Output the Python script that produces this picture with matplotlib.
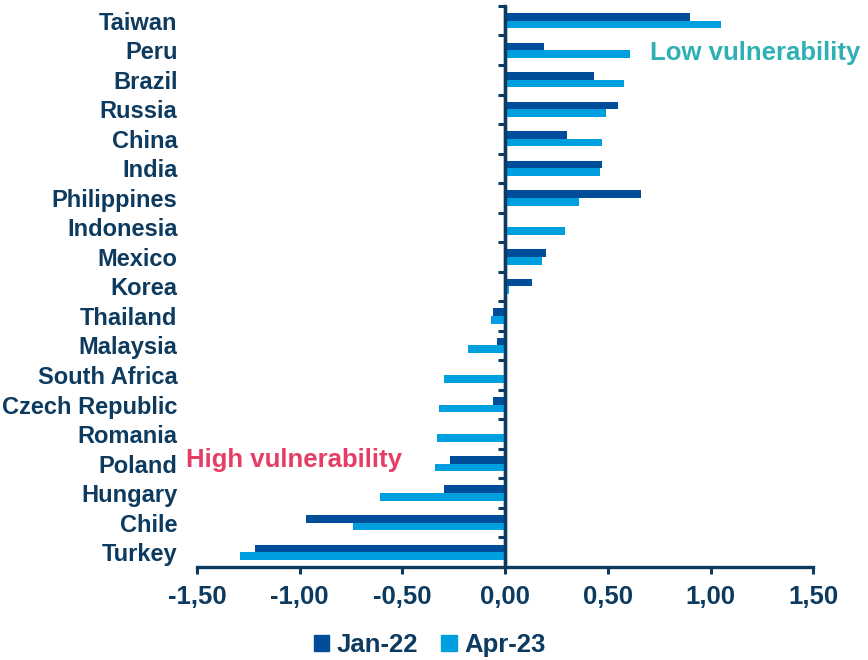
import matplotlib
matplotlib.use("Agg")
import matplotlib.pyplot as plt
import numpy as np
from matplotlib.patches import Patch

plt.rcParams['font.family'] = ['Liberation Sans', 'DejaVu Sans']

countries = ["Taiwan", "Peru", "Brazil", "Russia", "China", "India", "Philippines",
             "Indonesia", "Mexico", "Korea", "Thailand", "Malaysia", "South Africa",
             "Czech Republic", "Romania", "Poland", "Hungary", "Chile", "Turkey"]
jan22 = [0.90, 0.19, 0.43, 0.55, 0.30, 0.47, 0.66, 0.00, 0.20, 0.13,
         -0.06, -0.04, 0.00, -0.06, 0.00, -0.27, -0.30, -0.97, -1.22]
apr23 = [1.05, 0.61, 0.58, 0.49, 0.47, 0.46, 0.36, 0.29, 0.18, 0.02,
         -0.07, -0.18, -0.30, -0.32, -0.33, -0.34, -0.61, -0.74, -1.29]
xticks = [-1.5, -1.0, -0.5, 0.0, 0.5, 1.0, 1.5]
series_names = ["Jan-22", "Apr-23"]

navy = "#0d3a5f"
c_jan = "#004e9a"
c_apr = "#009fe0"

fig = plt.figure(figsize=(8.68, 6.6), dpi=100)
ax = fig.add_axes([0.227, 0.141, 0.71, 0.85])

y = np.arange(len(countries))
h = 0.26
ax.barh(y - h / 2, jan22, height=h, color=c_jan, label=series_names[0])
ax.barh(y + h / 2, apr23, height=h, color=c_apr, label=series_names[1])

ax.set_xlim(-1.5, 1.5)
ax.set_ylim(len(countries) - 0.5, -0.5)

# category labels sit at the left edge, the zero line carries the ticks
ax.set_yticks(y)
ax.set_yticklabels(countries, fontsize=17, fontweight="bold", color=navy)
ax.tick_params(axis="y", length=0, pad=14)

ax.set_xticks(xticks)
ax.set_xticklabels([f"{v:.2f}".replace(".", ",") for v in xticks],
                   fontsize=18.5, fontweight="bold", color=navy)
ax.tick_params(axis="x", length=5, width=2.2, color=navy, pad=8)

for s in ["top", "right", "left"]:
    ax.spines[s].set_visible(False)
ax.spines["bottom"].set_linewidth(2.4)
ax.spines["bottom"].set_color(navy)

ax.axvline(0, color=navy, lw=2.4, zorder=3)
zero = ax.secondary_yaxis(0, transform=ax.transData)
zero.set_alignment("left")
zero.set_yticks(np.arange(len(countries)) - 0.5)
zero.set_yticklabels([])
zero.tick_params(axis="y", length=5, width=2.2, color=navy)
zero.spines["left"].set_linewidth(2.4)
zero.spines["left"].set_color(navy)

ax.text(0.706, 1.09, "Low vulnerability", color="#2eb0b5", fontsize=18.5,
        fontweight="bold", va="center", ha="left", clip_on=False)
ax.text(-1.554, 14.88, "High vulnerability", color="#e63d66", fontsize=18.5,
        fontweight="bold", va="center", ha="left", clip_on=False)

handles = [Patch(color=c_jan), Patch(color=c_apr)]
leg = fig.legend(handles, series_names, loc="center", bbox_to_anchor=(0.495, 0.023),
                 ncol=2, frameon=False, handlelength=0.6, handleheight=0.6,
                 handletextpad=0.3, columnspacing=0.9,
                 prop={"size": 18.5, "weight": "bold"})
for t in leg.get_texts():
    t.set_color(navy)

fig.savefig("out.png", dpi=100)
